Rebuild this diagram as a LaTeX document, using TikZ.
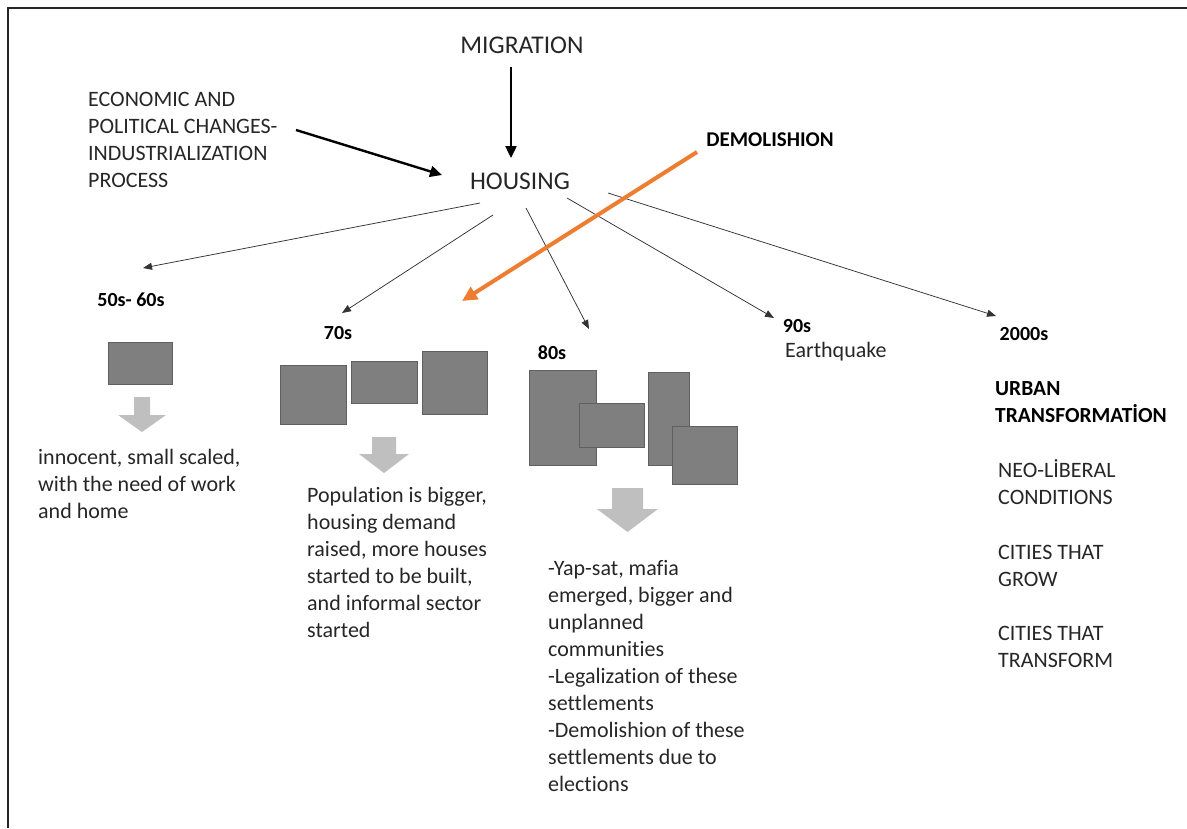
\documentclass[tikz,border=0pt]{standalone}
\usepackage{fontspec}
\setmainfont{Carlito}[Ligatures=NoCommon]
\usetikzlibrary{arrows.meta}
\definecolor{orng}{HTML}{ED7D31}
\definecolor{boxfill}{HTML}{7F7F7F}
\definecolor{boxline}{HTML}{606060}
\definecolor{arrfill}{HTML}{BFBFBF}
\definecolor{txt}{HTML}{262626}
\begin{document}
\begin{tikzpicture}[x=1pt,y=-1pt,
  big/.style={font=\fontsize{25.5}{30}\selectfont, text=txt, inner sep=0pt, anchor=base},
  body/.style={font=\fontsize{22}{27}\selectfont, text=txt, align=left, inner sep=0pt, anchor=base west},
  yearlbl/.style={font=\fontsize{20}{24}\selectfont\bfseries, text=black, inner sep=0pt, anchor=base},
  boldbody/.style={font=\fontsize{21.5}{27}\selectfont\bfseries, text=black, align=left, inner sep=0pt, anchor=base west},
  house/.style={fill=boxfill, draw=boxline, line width=0.8pt},
  blockarrow/.style={fill=arrfill, draw=none},
  thinarrow/.style={draw=black!80, line width=0.75pt, -{Triangle[length=9pt,width=7pt]}},
  thickarrow/.style={draw=black, line width=2.4pt, -{Triangle[length=12pt,width=11pt]}},
  orangearrow/.style={draw=orng, line width=4pt, -{Triangle[length=15pt,width=14pt]}},
  frameline/.style={draw=black!85, line width=1.6pt}
]
\useasboundingbox (0,0) rectangle (1187,828);
% partial frame
\draw[frameline] (8,828) -- (8,8) -- (1187,8);

% top nodes (multi-line nodes are placed by the baseline of their last line)
\node[big] (migration) at (522,53) {MIGRATION};
\node[big] (housing) at (520,189) {HOUSING};
\node[body, font=\fontsize{22}{26.7}\selectfont] (econ) at (88,187) {ECONOMIC AND\\POLITICAL CHANGES-\\INDUSTRIALIZATION\\PROCESS};
\node[font=\fontsize{21}{25}\selectfont\bfseries, text=black, anchor=base, inner sep=0pt] (demol) at (770,146) {DEMOLISHION};

% year labels
\node[yearlbl] (y50) at (131,306) {50s- 60s};
\node[yearlbl] (y70) at (338,339) {70s};
\node[yearlbl] (y80) at (552,359) {80s};
\node[yearlbl] (y90) at (797,332) {90s};
\node[body] (quake) at (785,357) {Earthquake};
\node[yearlbl] (y2000) at (1024,340) {2000s};

% connector end points
\coordinate (migS) at (511,67);
\coordinate (housN) at (511,158);
\coordinate (econE) at (296,130);
\coordinate (housW) at (442,175);
\coordinate (demS) at (697,152);
\coordinate (demT) at (462,301);
\coordinate (h1) at (480,203);
\coordinate (t1) at (143,268);
\coordinate (h2) at (493,215);
\coordinate (t2) at (342,313);
\coordinate (h3) at (526,208);
\coordinate (t3) at (589,329);
\coordinate (h4) at (567,198);
\coordinate (t4) at (774,318);
\coordinate (h5) at (608,193);
\coordinate (t5) at (996,316);

\draw[thickarrow] (migS) -- (housN);
\draw[thickarrow] (econE) -- (housW);
\draw[thinarrow] (h1) -- (t1);
\draw[thinarrow] (h2) -- (t2);
\draw[thinarrow] (h3) -- (t3);
\draw[thinarrow] (h4) -- (t4);
\draw[thinarrow] (h5) -- (t5);
\draw[orangearrow] (demS) -- (demT);

% 50s-60s
\draw[house] (108,342) rectangle (172,384);
\fill[blockarrow] (134,397) -- (150,397) -- (150,415) -- (166,415) -- (142,432) -- (118,415) -- (134,415) -- cycle;
\node[body] (t50) at (38,518) {innocent, small scaled,\\with the need of work\\and home};

% 70s
\draw[house] (280,365) rectangle (346,424);
\draw[house] (351,361) rectangle (417,403);
\draw[house] (422,351) rectangle (487,414);
\fill[blockarrow] (372,437) -- (396,437) -- (396,454) -- (409,454) -- (384,473) -- (359,454) -- (372,454) -- cycle;
\node[body] (t70) at (307,637) {Population is bigger,\\housing demand\\raised, more houses\\started to be built,\\and informal sector\\started};

% 80s
\draw[house] (529,370) rectangle (596,465);
\draw[house] (579,403) rectangle (644,447);
\draw[house] (648,372) rectangle (689,465);
\draw[house] (672,426) rectangle (737,484);
\fill[blockarrow] (612,488) -- (643,488) -- (643,509) -- (658,509) -- (627.5,532) -- (597,509) -- (612,509) -- cycle;
\node[body] (t80) at (548,791) {-Yap-sat, mafia\\emerged, bigger and\\unplanned\\communities\\-Legalization of these\\settlements\\-Demolishion of these\\settlements due to\\elections};

% 2000s column
\node[boldbody] (urban) at (995,422) {URBAN\\TRANSFORMATİON};
\node[body] (neo) at (998,504) {NEO-LİBERAL\\CONDITIONS};
\node[body] (grow) at (998,586) {CITIES THAT\\GROW};
\node[body] (transf) at (998,667) {CITIES THAT\\TRANSFORM};
\end{tikzpicture}
\end{document}
